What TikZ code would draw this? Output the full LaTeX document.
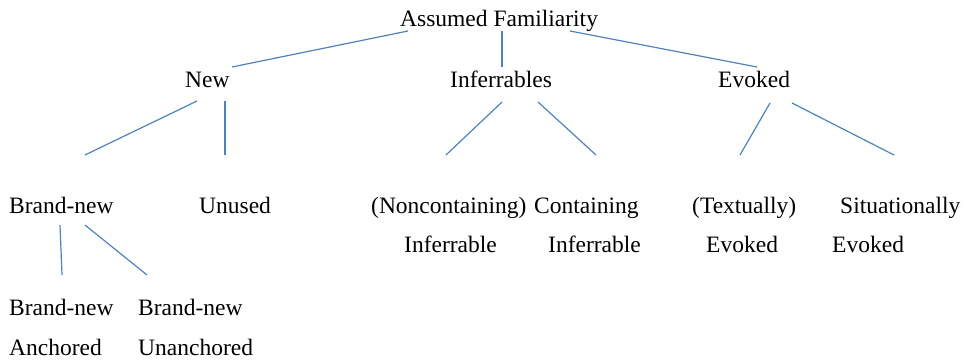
\documentclass[tikz,border=0pt]{standalone}
\usepackage{fontspec}
\setmainfont{Liberation Serif}
\usepackage{xcolor}
\definecolor{branchblue}{RGB}{79, 129, 189}
\definecolor{textblack}{RGB}{0, 0, 0}

\begin{document}
\begin{tikzpicture}[
        x=1pt, y=-1pt,
        label/.style={anchor=base west, inner sep=0pt, text=textblack, font=\fontsize{23.5}{28}\selectfont},
        branch/.style={draw=branchblue, line width=1.2pt}
    ]
    \useasboundingbox (0, 0) rectangle (966, 361);

    % Root and first level
    \node[label] (familiarity) at (400, 27) {Assumed Familiarity};
    \node[label] (new) at (185, 88) {New};
    \node[label] (inferrables) at (450, 88) {Inferrables};
    \node[label] (evoked) at (718, 88) {Evoked};

    % Second level
    \node[label] (brandnew) at (9, 213) {Brand-new};
    \node[label] (unused) at (199, 213) {Unused};
    \node[label] (noncont) at (371, 213) {(Noncontaining)};
    \node[label] (cont) at (534, 213) {Containing};
    \node[label] (noncont2) at (404, 252) {Inferrable};
    \node[label] (cont2) at (548, 252) {Inferrable};
    \node[label] (textually) at (692, 213) {(Textually)};
    \node[label] (situationally) at (840, 213) {Situationally};
    \node[label] (textually2) at (706, 252) {Evoked};
    \node[label] (situationally2) at (832, 252) {Evoked};

    % Third level
    \node[label] (anchored) at (9, 315) {Brand-new};
    \node[label] (unanchored) at (138, 315) {Brand-new};
    \node[label] (anchored2) at (9, 355) {Anchored};
    \node[label] (unanchored2) at (138, 355) {Unanchored};

    % Line ends
    \coordinate (familiarity-l) at (408, 31);
    \coordinate (familiarity-m) at (502, 31);
    \coordinate (familiarity-r) at (570, 31);
    \coordinate (new-t) at (232, 67);
    \coordinate (inferrables-t) at (502, 67);
    \coordinate (evoked-t) at (757, 67);
    \coordinate (new-l) at (197, 101);
    \coordinate (new-r) at (225, 101);
    \coordinate (inferrables-l) at (502, 102);
    \coordinate (inferrables-r) at (538, 102);
    \coordinate (evoked-l) at (770, 103);
    \coordinate (evoked-r) at (792, 103);
    \coordinate (brandnew-t) at (85, 155);
    \coordinate (unused-t) at (225, 155);
    \coordinate (noncont-t) at (446, 155);
    \coordinate (cont-t) at (596, 155);
    \coordinate (textually-t) at (740, 155);
    \coordinate (situationally-t) at (894, 155);
    \coordinate (brandnew-l) at (60, 225);
    \coordinate (brandnew-r) at (85, 225);
    \coordinate (anchored-t) at (62, 275);
    \coordinate (unanchored-t) at (147, 275);

    % Branches
    \draw[branch] (familiarity-l) -- (new-t);
    \draw[branch] (familiarity-m) -- (inferrables-t);
    \draw[branch] (familiarity-r) -- (evoked-t);
    \draw[branch] (new-l) -- (brandnew-t);
    \draw[branch] (new-r) -- (unused-t);
    \draw[branch] (inferrables-l) -- (noncont-t);
    \draw[branch] (inferrables-r) -- (cont-t);
    \draw[branch] (evoked-l) -- (textually-t);
    \draw[branch] (evoked-r) -- (situationally-t);
    \draw[branch] (brandnew-l) -- (anchored-t);
    \draw[branch] (brandnew-r) -- (unanchored-t);

\end{tikzpicture}
\end{document}
